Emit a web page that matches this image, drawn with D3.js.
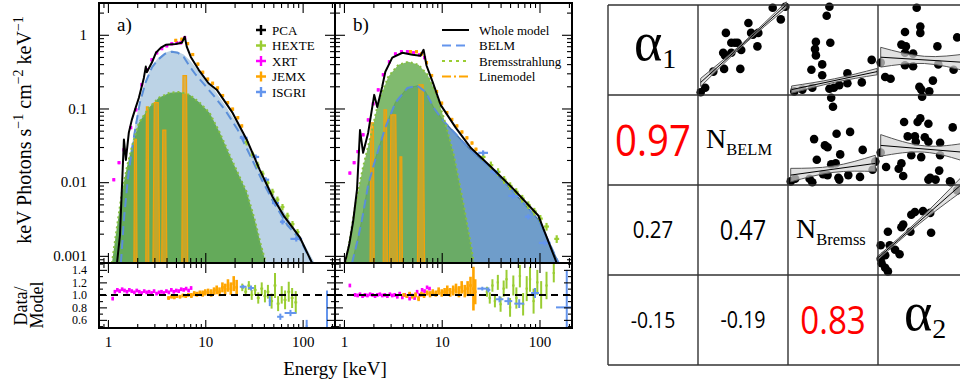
<!DOCTYPE html>
<html>
<head>
<meta charset="utf-8">
<script src="https://cdn.jsdelivr.net/npm/d3@7"></script>
<style>
  body { margin: 0; background: #fff; }
  svg { display: block; }
</style>
</head>
<body>
<script>
// ---------- spectral model curves: [energy keV, keV photons s^-1 cm^-2 keV^-1] ----------
const modelA = [[1.24,0.0008],[1.33,0.0019],[1.39,0.0079],[1.46,0.038],[1.53,0.020],[1.64,0.047],[1.76,0.070],[1.94,0.105],[2.08,0.14],[2.34,0.26],[2.45,0.37],[2.51,0.31],[2.83,0.42],[3.11,0.57],[3.50,0.67],[3.93,0.73],[4.98,0.75],[5.74,0.78],[6.16,0.94],[6.45,0.69],[7.10,0.50],[8.56,0.335],[10.8,0.22],[13.1,0.18],[19.1,0.087],[26.6,0.038],[36.3,0.0147],[49.2,0.0063],[64.9,0.0034],[93.3,0.0018],[125,0.0008]];
const belmA = [[1.36,0.0008],[1.46,0.0031],[1.60,0.0108],[1.76,0.0275],[1.94,0.060],[2.13,0.12],[2.45,0.23],[2.83,0.36],[3.26,0.458],[3.84,0.55],[4.53,0.59],[5.22,0.57],[6.0,0.50],[6.93,0.37],[7.98,0.287],[9.65,0.216],[12.2,0.149],[16.2,0.093],[21.6,0.051],[28.6,0.0236],[38.0,0.0108],[51.7,0.005],[69.9,0.0026],[93.3,0.0017],[125,0.0008]];
const belmEnvA = [[1.34,0.0008],[1.44,0.0035],[1.58,0.0125],[1.75,0.030],[1.93,0.066],[2.12,0.13],[2.45,0.245],[2.83,0.38],[3.26,0.48],[3.84,0.57],[4.53,0.61],[5.22,0.59],[6.0,0.54],[6.93,0.45],[8.77,0.31],[11.7,0.20],[16.2,0.108],[22.6,0.055],[30.6,0.024],[42.8,0.010],[58.1,0.0049],[78.9,0.0026],[99.6,0.0016],[133,0.0008]];
const bremsA = [[1.10,0.0008],[1.24,0.0025],[1.39,0.0072],[1.57,0.0162],[1.76,0.030],[2.08,0.064],[2.63,0.102],[3.33,0.14],[4.32,0.164],[5.47,0.168],[6.93,0.153],[8.77,0.12],[11.1,0.087],[14.1,0.047],[19.1,0.019],[26.6,0.0074],[32.2,0.0031],[37.3,0.0014],[42.0,0.0008]];

const modelB = [[1.02,0.0008],[1.13,0.0014],[1.24,0.0029],[1.36,0.0079],[1.46,0.051],[1.57,0.025],[1.77,0.047],[2.04,0.153],[2.19,0.105],[2.46,0.197],[2.65,0.315],[3.12,0.49],[3.96,0.57],[5.02,0.535],[6.07,0.52],[6.52,0.626],[7.0,0.38],[8.07,0.23],[9.75,0.112],[13.9,0.055],[19.9,0.029],[31.8,0.0162],[55.0,0.0079],[97.6,0.0035],[150,0.0008]];
const belmB = [[1.21,0.0008],[1.39,0.0017],[1.53,0.0031],[1.77,0.0092],[2.09,0.0202],[2.65,0.055],[3.36,0.12],[4.46,0.19],[5.65,0.203],[6.83,0.168],[8.28,0.102],[10.2,0.07],[13.9,0.045],[19.9,0.027],[31.8,0.0157],[55.0,0.0072],[97.6,0.0031],[157,0.0008]];
const bremsB = [[1.05,0.0008],[1.15,0.0017],[1.30,0.0047],[1.57,0.0162],[1.94,0.051],[2.24,0.12],[2.84,0.27],[3.60,0.392],[4.57,0.43],[5.79,0.392],[7.17,0.287],[8.67,0.163],[10.5,0.075],[13.3,0.0236],[16.8,0.0049],[19.9,0.0014],[21.3,0.0008]];

// emission lines (line model): energy range and peak
const lineLoA = [1.85, 2.45, 2.90, 3.57, 5.74];
const lineHiA = [1.99, 2.63, 3.40, 4.03, 6.60];
const linePeakA = [0.038, 0.105, 0.12, 0.051, 0.28];
const lineLoB = [1.85, 2.52, 2.91, 3.69, 5.65];
const lineHiB = [2.04, 2.78, 3.52, 3.96, 6.68];
const linePeakB = [0.064, 0.096, 0.082, 0.022, 0.21];

// ---------- unfolded data points ----------
const xrtA_E = [1.15,1.30,1.46,1.72,1.94,2.23,2.51,2.83,3.18,3.58,4.03,4.53,5.10,5.61,6.16];
const xrtA_F = [0.0108,0.0184,0.0275,0.055,0.096,0.21,0.335,0.458,0.57,0.65,0.71,0.755,0.78,0.78,0.91];
const jemxA_E = [4.98,5.74,6.6,7.44,8.4,9.43,10.6,11.9,13.4,15.1,17.0,19.1,21.6,23.7];
const jemxA_F = [0.84,0.87,0.76,0.54,0.40,0.31,0.25,0.22,0.19,0.15,0.12,0.098,0.075,0.058];
const hexteA_E = [26.6,30.6,34.4,38.7,43.6,49.0,55.1,62.1,69.9,78.7,88.6];
const hexteA_F = [0.035,0.0236,0.0172,0.013,0.0098,0.0074,0.0058,0.0046,0.0035,0.0027,0.0021];
const isgriA_E = [24.8,32.9,41.7,52.6,62.1,86.0];
const isgriA_F = [0.040,0.022,0.0108,0.0052,0.0029,0.0017];
const isgriA_W = [0.04,0.036,0.036,0.036,0.026,0.06];

const xrtB_E = [1.15,1.27,1.39,1.57,1.77,1.99,2.24,2.52,2.91,3.36,3.87,4.46,5.15,5.93,6.68];
const xrtB_F = [0.0133,0.0184,0.026,0.044,0.070,0.116,0.179,0.287,0.43,0.55,0.59,0.59,0.57,0.535,0.49];
const jemxB_E = [4.79,5.52,6.22,7.0,7.9,8.88,10.0,11.3,12.7,14.3,16.1,18.1,20.4,22.4];
const jemxB_F = [0.59,0.59,0.55,0.42,0.28,0.17,0.118,0.088,0.071,0.058,0.048,0.040,0.034,0.028];
const hexteB_E = [26.5,31.8,37.7,43.5,50.1,57.8,66.6,76.8,88.5,102,118,150];
const hexteB_F = [0.022,0.017,0.0138,0.0108,0.0089,0.0074,0.006,0.0049,0.004,0.0032,0.0025,0.0017];
const isgriB_E = [26.5,34.4,53.9,76.8,113];
const isgriB_F = [0.025,0.0139,0.0065,0.0034,0.0015];
const isgriB_W = [0.05,0.04,0.05,0.035,0.06];

// ---------- residuals (data / model) ----------
const resXrtA_E = [1.12,1.18,1.25,1.32,1.40,1.48,1.57,1.66,1.76,1.87,1.98,2.10,2.22,2.36,2.50,2.65,2.81,2.98,3.16,3.35,3.55,3.76,3.99,4.23,4.48,4.75,5.04,5.34,5.66,6.0,6.36,6.74,7.15];
const resXrtA_R = [0.94,1.05,1.08,1.06,1.09,1.07,1.05,1.08,1.06,1.04,1.07,1.05,1.03,1.06,1.04,1.05,1.03,1.06,1.02,1.04,1.05,1.03,1.06,1.04,1.08,1.05,1.07,1.06,1.09,1.08,1.10,1.07,1.11];
const resJemxA_E = [4.2,4.5,4.8,5.1,5.5,5.9,6.3,6.7,7.2,7.7,8.2,8.8,9.4,10.0,10.7,11.5,12.3,13.1,14.0,15.0,16.0,17.1,18.3,19.6,21.0];
const resJemxA_R = [0.95,0.97,0.96,0.98,0.97,0.99,0.98,1.0,0.99,1.02,1.01,1.03,1.02,1.04,1.05,1.03,1.06,1.08,1.05,1.12,1.09,1.15,1.10,1.18,1.12];
const resJemxA_D = [0.03,0.03,0.03,0.03,0.03,0.03,0.03,0.03,0.04,0.04,0.04,0.04,0.05,0.05,0.05,0.06,0.06,0.07,0.07,0.08,0.09,0.1,0.1,0.12,0.12];
const resHexteA_E = [24,26,28,30,32.5,35,38,41,44,48,52,56,61,66,72,78,85];
const resHexteA_R = [1.12,1.05,1.15,1.0,1.08,0.95,1.1,0.98,1.05,0.9,1.15,0.86,1.0,0.92,1.05,0.95,0.88];
const resHexteA_D = [0.06,0.07,0.07,0.08,0.08,0.09,0.1,0.1,0.11,0.12,0.2,0.12,0.14,0.15,0.16,0.16,0.18];
const resIsgriA_E = [24.5,29.5,46,59,75,110,178];
const resIsgriA_R = [1.13,1.11,0.9,0.65,0.71,0.5,0.62];
const resIsgriA_D = [0.03,0.04,0.08,0.05,0.05,0.1,0.45];
const resIsgriA_W = [0.035,0.03,0.01,0.033,0.06,0.01,0.01];

const resXrtB_E = [1.15,1.3,1.38,1.46,1.55,1.64,1.74,1.85,1.96,2.08,2.2,2.33,2.47,2.62,2.78,2.95,3.12,3.31,3.51,3.72,3.95,4.18,4.43,4.7,4.98,5.28,5.6,5.94,6.3,6.68,7.08,7.5];
const resXrtB_R = [1.15,1.0,0.99,1.01,0.98,1.0,0.99,1.01,1.0,0.98,1.0,1.01,0.99,1.0,0.98,1.01,0.99,1.0,0.97,1.02,0.96,1.0,0.98,0.94,0.99,0.95,1.05,1.0,1.08,1.06,1.12,1.1];
const resJemxB_E = [4.1,4.4,4.7,5.0,5.4,5.8,6.2,6.6,7.1,7.6,8.1,8.7,9.3,10.0,10.7,11.4,12.2,13.1,14.0,15.0,16.0,17.2,18.4,19.7,21.1,22.0];
const resJemxB_R = [1.0,0.98,1.02,0.97,1.0,0.94,1.01,0.99,1.03,1.01,1.04,1.02,1.06,1.03,1.05,1.08,1.04,1.07,1.1,1.05,1.12,1.06,1.1,1.15,1.1,1.05];
const resJemxB_D = [0.03,0.03,0.03,0.03,0.04,0.04,0.04,0.04,0.04,0.05,0.05,0.05,0.06,0.06,0.06,0.07,0.07,0.08,0.08,0.09,0.1,0.1,0.12,0.14,0.35,0.2];
const resHexteB_E = [29,31,33,35,37.5,40,43,46,50,54,58,63,68,74,80,87,95,104,118,140];
const resHexteB_R = [1.05,0.95,1.15,0.9,1.2,0.85,1.1,1.25,0.8,1.15,0.95,1.3,0.85,1.1,1.25,0.9,1.2,1.0,1.15,1.35];
const resHexteB_D = [0.08,0.09,0.1,0.1,0.12,0.12,0.13,0.15,0.15,0.16,0.17,0.18,0.18,0.2,0.2,0.2,0.2,0.22,0.22,0.15];
const resIsgriB_E = [26,30,39,48,62,90,190];
const resIsgriB_R = [1.1,1.08,0.93,0.9,0.86,1.03,0.8];
const resIsgriB_D = [0.03,0.04,0.05,0.06,0.07,0.08,0.6];
const resIsgriB_W = [0.05,0.02,0.04,0.04,0.05,0.04,0.11];

// ---------- legends / ticks ----------
const instNames = ['PCA', 'HEXTE', 'XRT', 'JEMX', 'ISGRI'];
const instColors = ['#000000', '#9acd32', '#ff00ff', '#ffa500', '#6495ed'];
const compNames = ['Whole model', 'BELM', 'Bremsstrahlung', 'Linemodel'];
const compColors = ['#000000', '#6495ed', '#9acd32', '#ffa500'];
const compDash = [null, '9,5', '3,4', '9,3,2,3'];
const fluxTicks = [0.001, 0.01, 0.1, 1];
const energyTicks = [1, 10, 100];
const ratioTicks = [0.6, 0.8, 1.0, 1.2, 1.4];
const ratioMinor = [0.5, 0.7, 0.9, 1.1, 1.3, 1.5];

// ---------- correlation matrix ----------
const parNames = ['\u03b1', 'N', 'N', '\u03b1'];
const parSubs = ['1', 'BELM', 'Bremss', '2'];
const corrRow = [1, 2, 2, 3, 3, 3];
const corrCol = [0, 0, 1, 0, 1, 2];
const corrVal = [0.97, 0.27, 0.47, -0.15, -0.19, 0.83];

// scatter cells (row, col) and points in normalised cell units [x, y]
const scatRow = [0, 0, 0, 1, 1, 2];
const scatCol = [1, 2, 3, 2, 3, 3];
const pts01 = [[.03,.03],[.08,.08],[.17,.26],[.29,.29],[.30,.44],[.31,.69],[.37,.58],[.41,.58],[.44,.58],[.47,.29],[.48,.50],[.56,.80],[.59,.69],[.61,.67],[.66,.54],[.67,.69],[.83,.97],[.92,.84],[.97,.98],[.37,.47],[.28,.47]];
const pts02 = [[.46,.98],[.43,.88],[.31,.59],[.30,.51],[.31,.44],[.47,.58],[.38,.34],[.26,.28],[.38,.22],[.66,.24],[.93,.39],[.82,.14],[.66,.13],[.57,.11],[.51,.08],[.46,.07],[.48,-.03],[.50,-.13],[.27,.08],[.16,.06],[.07,.04]];
const pts03 = [[.43,.97],[.47,.76],[.47,.69],[.30,.70],[.26,.56],[.31,.54],[.66,.54],[.30,.47],[.39,.46],[.03,.36],[.30,.33],[.39,.32],[.67,.34],[.84,.28],[.08,.20],[.14,.18],[.61,.16],[.46,.09],[.48,.06],[.57,.04],[.49,-.02],[.88,.64]];
const pts12 = [[.29,.51],[.41,.44],[.44,.42],[.54,.57],[.69,.59],[.58,.34],[.83,.39],[.32,.28],[.48,.23],[.53,.24],[.08,.07],[.24,.07],[.39,.12],[.44,.11],[.56,.08],[.67,.11],[.80,.09],[.94,.17],[.97,.26],[.03,.04],[.27,.03],[.57,.06]];
const pts13 = [[.29,.70],[.47,.74],[.44,.70],[.56,.68],[.83,.64],[.33,.54],[.41,.54],[.52,.53],[.42,.48],[.56,.48],[.69,.47],[.03,.36],[.37,.33],[.48,.31],[.69,.33],[.09,.20],[.26,.24],[.23,.18],[.28,.10],[.58,.08],[.68,.16],[.64,.06],[.80,.04]];
const pts23 = [[.11,.48],[.26,.53],[.28,.56],[.37,.67],[.41,.70],[.50,.71],[.58,.69],[.59,.47],[.36,.48],[.03,.33],[.13,.33],[.19,.28],[.24,.23],[.08,.22],[.04,.13],[.08,.08],[.11,.04],[.03,.18],[.56,1.06],[.81,1.03],[.88,.94]];
const scatPts = [pts01, pts02, pts03, pts12, pts13, pts23];
// linear fit: start/end in cell units and band half-width at start, middle, end
const fitX0 = [.03, .04, .03, .03, .03, 0];
const fitY0 = [.14, .06, .42, .11, .44, .19];
const fitX1 = [.98, .99, 1.0, .97, 1.0, .92];
const fitY1 = [1.0, .26, .36, .24, .36, 1.0];
const bandL = [.045, .04, .11, .075, .12, .02];
const bandM = [.015, .02, .04, .035, .035, .025];
const bandR = [.035, .035, .10, .09, .11, .08];

// ======================================================================
const serif = '"Liberation Serif", "Times New Roman", serif';
const svg = d3.select('body').append('svg')
  .attr('width', 960).attr('height', 385)
  .style('background', '#fff');

const mainTop = 3, mainBot = 263, resBot = 328;
const yMain = d3.scaleLog().domain([8e-4, 2.7]).range([mainBot, mainTop]);
const yRes = d3.scaleLinear().domain([0.47, 1.51]).range([resBot, mainBot]);

const decades = (lo, hi) => {
  const out = [];
  for (let k = -4; k <= 3; k++) {
    for (let m = 2; m <= 9; m++) {
      const v = m * Math.pow(10, k);
      if (v > lo && v < hi) out.push(v);
    }
  }
  return out;
};

function tickAxis(g, axisFn, scale, values, size, fmt, fontSize) {
  g.call(axisFn(scale).tickValues(values).tickSizeInner(-size).tickSizeOuter(0)
    .tickPadding(fmt ? 12 : 0).tickFormat(fmt || (() => '')));
  g.select('.domain').remove();
  g.selectAll('line').attr('stroke', '#000').attr('stroke-width', 1.1);
  g.selectAll('text').attr('font-family', serif).attr('font-size', fontSize || 15).attr('fill', '#000');
}

const panels = [
  { id: 'a', x0: 99, x1: 335, model: modelA, belm: belmA, env: belmEnvA, brems: bremsA,
    lo: lineLoA, hi: lineHiA, pk: linePeakA,
    envFill: '#bcd3e6', belmFill: null, greenFill: '#64aa5a', greenOp: 1,
    data: [
      { e: xrtA_E, f: xrtA_F, c: instColors[2], w: 0.012, df: 0.05, sw: 3 },
      { e: jemxA_E, f: jemxA_F, c: instColors[3], w: 0.012, df: 0.05, sw: 3 },
      { e: hexteA_E, f: hexteA_F, c: instColors[1], w: 0.02, df: 0.1, sw: 2.2 },
      { e: isgriA_E, f: isgriA_F, c: instColors[4], wArr: isgriA_W, df: 0.08, sw: 2.2 }
    ],
    res: [
      { e: resXrtA_E, r: resXrtA_R, d: null, dc: 0.03, c: instColors[2], w: 0.01, sw: 2.6 },
      { e: resJemxA_E, r: resJemxA_R, d: resJemxA_D, c: instColors[3], w: 0.014, sw: 2.6 },
      { e: resHexteA_E, r: resHexteA_R, d: resHexteA_D, c: instColors[1], w: 0.015, sw: 2 },
      { e: resIsgriA_E, r: resIsgriA_R, d: resIsgriA_D, c: instColors[4], wArr: resIsgriA_W, sw: 2 }
    ] },
  { id: 'b', x0: 335, x1: 572, model: modelB, belm: belmB, env: null, brems: bremsB,
    lo: lineLoB, hi: lineHiB, pk: linePeakB,
    envFill: null, belmFill: '#6f9dca', greenFill: '#6aae55', greenOp: 0.85,
    data: [
      { e: xrtB_E, f: xrtB_F, c: instColors[2], w: 0.012, df: 0.05, sw: 3 },
      { e: jemxB_E, f: jemxB_F, c: instColors[3], w: 0.012, df: 0.05, sw: 3 },
      { e: hexteB_E, f: hexteB_F, c: instColors[1], w: 0.025, df: 0.12, sw: 2.2 },
      { e: isgriB_E, f: isgriB_F, c: instColors[4], wArr: isgriB_W, df: 0.08, sw: 2.2 }
    ],
    res: [
      { e: resXrtB_E, r: resXrtB_R, d: null, dc: 0.03, c: instColors[2], w: 0.01, sw: 2.6 },
      { e: resJemxB_E, r: resJemxB_R, d: resJemxB_D, c: instColors[3], w: 0.014, sw: 2.6 },
      { e: resHexteB_E, r: resHexteB_R, d: resHexteB_D, c: instColors[1], w: 0.012, sw: 2 },
      { e: resIsgriB_E, r: resIsgriB_R, d: resIsgriB_D, c: instColors[4], wArr: resIsgriB_W, sw: 2 }
    ] }
];

const defs = svg.append('defs');

panels.forEach((p) => {
  const x = d3.scaleLog().domain([0.81, 215]).range([p.x0, p.x1]);
  const xe = (e, dex) => x(e * Math.pow(10, dex));

  defs.append('clipPath').attr('id', 'clipM' + p.id)
    .append('rect').attr('x', p.x0).attr('y', mainTop).attr('width', p.x1 - p.x0).attr('height', mainBot - mainTop);
  defs.append('clipPath').attr('id', 'clipR' + p.id)
    .append('rect').attr('x', p.x0).attr('y', mainBot).attr('width', p.x1 - p.x0).attr('height', resBot - mainBot);

  const gm = svg.append('g').attr('clip-path', `url(#clipM${p.id})`);
  const area = d3.area().x(d => x(d[0])).y0(mainBot).y1(d => yMain(d[1]));
  const line = d3.line().x(d => x(d[0])).y(d => yMain(d[1]));

  if (p.env) gm.append('path').attr('d', area(p.env)).attr('fill', p.envFill);
  if (p.belmFill) {
    gm.append('path').attr('d', area(p.belm)).attr('fill', p.belmFill);
    gm.append('path').attr('d', line(p.belm)).attr('fill', 'none').attr('stroke', '#3f70a8').attr('stroke-width', 1.2);
  }
  gm.append('path').attr('d', area(p.brems)).attr('fill', p.greenFill).attr('fill-opacity', p.greenOp);

  // emission lines
  p.lo.forEach((lo, i) => {
    const xl = x(lo), xh = x(p.hi[i]), inset = (xh - xl) * 0.2;
    const yt = yMain(p.pk[i]);
    gm.append('path')
      .attr('d', `M${xl},${mainBot}L${xl + inset},${yt}L${xh - inset},${yt}L${xh},${mainBot}Z`)
      .attr('fill', '#e3a51c').attr('fill-opacity', 0.75)
      .attr('stroke', '#f2a20a').attr('stroke-width', 1.2);
  });

  gm.append('path').attr('d', line(p.belm)).attr('fill', 'none')
    .attr('stroke', '#5b8fd9').attr('stroke-width', 2).attr('stroke-dasharray', '9,5');
  gm.append('path').attr('d', line(p.brems)).attr('fill', 'none')
    .attr('stroke', '#86c040').attr('stroke-width', 2).attr('stroke-dasharray', '2,3');

  // unfolded data crosses
  p.data.forEach((s) => {
    const gs = gm.append('g').attr('stroke', s.c).attr('stroke-width', s.sw);
    s.e.forEach((e, i) => {
      const w = s.wArr ? s.wArr[i] : s.w;
      const f = s.f[i];
      gs.append('line').attr('x1', xe(e, -w)).attr('x2', xe(e, w))
        .attr('y1', yMain(f)).attr('y2', yMain(f));
      gs.append('line').attr('x1', x(e)).attr('x2', x(e))
        .attr('y1', yMain(f * (1 - s.df))).attr('y2', yMain(f * (1 + s.df)));
    });
  });

  gm.append('path').attr('d', line(p.model)).attr('fill', 'none')
    .attr('stroke', '#000').attr('stroke-width', 2).attr('stroke-linejoin', 'round');

  // residual panel
  const gr = svg.append('g').attr('clip-path', `url(#clipR${p.id})`);
  p.res.forEach((s) => {
    const gs = gr.append('g').attr('stroke', s.c).attr('stroke-width', s.sw);
    s.e.forEach((e, i) => {
      const w = s.wArr ? s.wArr[i] : s.w;
      const r = s.r[i], d = s.d ? s.d[i] : s.dc;
      gs.append('line').attr('x1', xe(e, -w)).attr('x2', xe(e, w))
        .attr('y1', yRes(r)).attr('y2', yRes(r));
      gs.append('line').attr('x1', x(e)).attr('x2', x(e))
        .attr('y1', yRes(r - d)).attr('y2', yRes(r + d));
    });
  });
  gr.append('line').attr('x1', p.x0).attr('x2', p.x1)
    .attr('y1', yRes(1)).attr('y2', yRes(1))
    .attr('stroke', '#000').attr('stroke-width', 2).attr('stroke-dasharray', '7,5');

  // ticks
  const first = p.id === 'a';
  const xMinor = decades(0.81, 215);
  const yMinor = decades(8e-4, 2.7);
  const fmtFlux = d => (d >= 1 ? d3.format('d')(d) : String(d));
  tickAxis(svg.append('g').attr('transform', `translate(${p.x0},0)`), d3.axisLeft, yMain, fluxTicks, 10, first ? fmtFlux : null);
  tickAxis(svg.append('g').attr('transform', `translate(${p.x0},0)`), d3.axisLeft, yMain, yMinor, 5);
  tickAxis(svg.append('g').attr('transform', `translate(${p.x1},0)`), d3.axisRight, yMain, fluxTicks, 10);
  tickAxis(svg.append('g').attr('transform', `translate(${p.x1},0)`), d3.axisRight, yMain, yMinor, 5);
  tickAxis(svg.append('g').attr('transform', `translate(${p.x0},0)`), d3.axisLeft, yRes, ratioTicks, 8, first ? d3.format('.1f') : null, 12);
  tickAxis(svg.append('g').attr('transform', `translate(${p.x0},0)`), d3.axisLeft, yRes, ratioMinor, 4);
  tickAxis(svg.append('g').attr('transform', `translate(${p.x1},0)`), d3.axisRight, yRes, ratioTicks, 8);
  tickAxis(svg.append('g').attr('transform', `translate(${p.x1},0)`), d3.axisRight, yRes, ratioMinor, 4);
  [mainTop, mainBot].forEach((yy) => {
    tickAxis(svg.append('g').attr('transform', `translate(0,${yy})`), d3.axisTop, x, energyTicks, 10);
    tickAxis(svg.append('g').attr('transform', `translate(0,${yy})`), d3.axisTop, x, xMinor, 5);
  });
  tickAxis(svg.append('g').attr('transform', `translate(0,${mainBot})`), d3.axisBottom, x, energyTicks, 10);
  tickAxis(svg.append('g').attr('transform', `translate(0,${mainBot})`), d3.axisBottom, x, xMinor, 5);
  const gx = svg.append('g').attr('transform', `translate(0,${resBot})`);
  tickAxis(gx, d3.axisBottom, x, energyTicks, 8, d3.format('d'));
  gx.selectAll('text').attr('dy', '0.71em').attr('y', 8);
  tickAxis(svg.append('g').attr('transform', `translate(0,${resBot})`), d3.axisBottom, x, xMinor, 4);

  // frames
  svg.append('rect').attr('x', p.x0).attr('y', mainTop).attr('width', p.x1 - p.x0).attr('height', mainBot - mainTop)
    .attr('fill', 'none').attr('stroke', '#000').attr('stroke-width', 2);
  svg.append('rect').attr('x', p.x0).attr('y', mainBot).attr('width', p.x1 - p.x0).attr('height', resBot - mainBot)
    .attr('fill', 'none').attr('stroke', '#000').attr('stroke-width', 2);

  svg.append('text').attr('x', p.x0 + 18).attr('y', 31)
    .attr('font-family', serif).attr('font-size', 19).text(p.id + ')');
});

// legend a
const legA = svg.append('g').attr('font-family', serif).attr('font-size', 13);
instNames.forEach((n, i) => {
  const cy = 30 + i * 15.5;
  legA.append('path').attr('d', `M256,${cy}h10M261,${cy - 5}v10`)
    .attr('stroke', instColors[i]).attr('stroke-width', 2.4);
  legA.append('text').attr('x', 272).attr('y', cy + 4.5).text(n);
});
// legend b
const legB = svg.append('g').attr('font-family', serif).attr('font-size', 13);
compNames.forEach((n, i) => {
  const cy = 30 + i * 15.5;
  legB.append('line').attr('x1', 442).attr('x2', 469).attr('y1', cy).attr('y2', cy)
    .attr('stroke', compColors[i]).attr('stroke-width', 2).attr('stroke-dasharray', compDash[i]);
  legB.append('text').attr('x', 479).attr('y', cy + 4.5).text(n);
});

// axis titles
const yt = svg.append('text').attr('font-family', serif).attr('font-size', 20)
  .attr('text-anchor', 'middle').attr('transform', 'translate(31,130) rotate(-90)');
yt.append('tspan').text('keV Photons s');
yt.append('tspan').attr('font-size', 14).attr('dy', -8).text('\u22121');
yt.append('tspan').attr('dy', 8).text(' cm');
yt.append('tspan').attr('font-size', 14).attr('dy', -8).text('\u22122');
yt.append('tspan').attr('dy', 8).text(' keV');
yt.append('tspan').attr('font-size', 14).attr('dy', -8).text('\u22121');

svg.append('text').attr('font-family', serif).attr('font-size', 18).attr('text-anchor', 'middle')
  .attr('transform', 'translate(27,306) rotate(-90)').text('Data/');
svg.append('text').attr('font-family', serif).attr('font-size', 18).attr('text-anchor', 'middle')
  .attr('transform', 'translate(43,305) rotate(-90)').text('Model');
svg.append('text').attr('font-family', serif).attr('font-size', 19).attr('text-anchor', 'middle')
  .attr('x', 335).attr('y', 375).text('Energy [keV]');

// ================= correlation matrix =================
const mx = 608, my = 5, cs = 90;
const gMat = svg.append('g');

scatPts.forEach((pts, k) => {
  const cx0 = mx + scatCol[k] * cs, cy0 = my + scatRow[k] * cs;
  const sx = d3.scaleLinear().domain([0, 1]).range([cx0, cx0 + cs]);
  const sy = d3.scaleLinear().domain([0, 1]).range([cy0 + cs, cy0]);
  gMat.append('g').selectAll('circle').data(pts).join('circle')
    .attr('cx', d => sx(d[0])).attr('cy', d => sy(d[1])).attr('r', 4.3).attr('fill', '#000');

  const lineAt = (t) => {
    const xv = fitX0[k] + (fitX1[k] - fitX0[k]) * t;
    const yv = fitY0[k] + (fitY1[k] - fitY0[k]) * t;
    return [xv, yv];
  };
  const band = [0, 0.5, 1].map((t, j) => {
    const [xv, yv] = lineAt(t);
    const hw = [bandL[k], bandM[k], bandR[k]][j];
    return { x: xv, lo: yv - hw, hi: yv + hw };
  });
  gMat.append('path')
    .attr('d', d3.area().curve(d3.curveNatural).x(d => sx(d.x)).y0(d => sy(d.lo)).y1(d => sy(d.hi))(band))
    .attr('fill', '#d6d6d6').attr('fill-opacity', 0.72)
    .attr('stroke', '#555').attr('stroke-width', 1);
  const [ax, ay] = lineAt(0), [bx, by] = lineAt(1);
  gMat.append('line').attr('x1', sx(ax)).attr('y1', sy(ay)).attr('x2', sx(bx)).attr('y2', sy(by))
    .attr('stroke', '#000').attr('stroke-width', 1);
});

// grid
for (let i = 0; i <= 4; i++) {
  gMat.append('line').attr('x1', mx + i * cs).attr('x2', mx + i * cs).attr('y1', my).attr('y2', my + 4 * cs)
    .attr('stroke', '#333').attr('stroke-width', 1.4);
  gMat.append('line').attr('x1', mx).attr('x2', mx + 4 * cs).attr('y1', my + i * cs).attr('y2', my + i * cs)
    .attr('stroke', '#333').attr('stroke-width', 1.4);
}

// diagonal parameter names
parNames.forEach((n, i) => {
  const cx0 = mx + i * cs, cy0 = my + i * cs;
  const greek = n === '\u03b1';
  const t = gMat.append('text').attr('font-family', serif)
    .attr('x', cx0 + (greek ? 26 : 8)).attr('y', cy0 + (greek ? 55 : 53));
  t.append('tspan').attr('font-size', greek ? 54 : 28).text(n);
  t.append('tspan').attr('font-size', greek ? 28 : 16.5).attr('dy', greek ? 8 : 7).text(parSubs[i]);
});

// correlation coefficients
const sizeScale = d3.scalePow().exponent(2).domain([0, 1]).range([22, 46]);
corrVal.forEach((v, k) => {
  const fs = sizeScale(Math.abs(v));
  const cx = mx + (corrCol[k] + 0.5) * cs;
  const cy = my + (corrRow[k] + 0.5) * cs + 0.357 * fs;
  gMat.append('text')
    .attr('transform', `translate(${cx},${cy}) scale(0.86,1)`)
    .attr('text-anchor', 'middle')
    .attr('font-family', '"Open Sans", "DejaVu Sans", sans-serif')
    .attr('font-size', fs)
    .attr('fill', Math.abs(v) >= 0.8 ? '#ff0000' : '#000')
    .text(d3.format('.2f')(v).replace('\u2212', '-'));
});
</script>
</body>
</html>
